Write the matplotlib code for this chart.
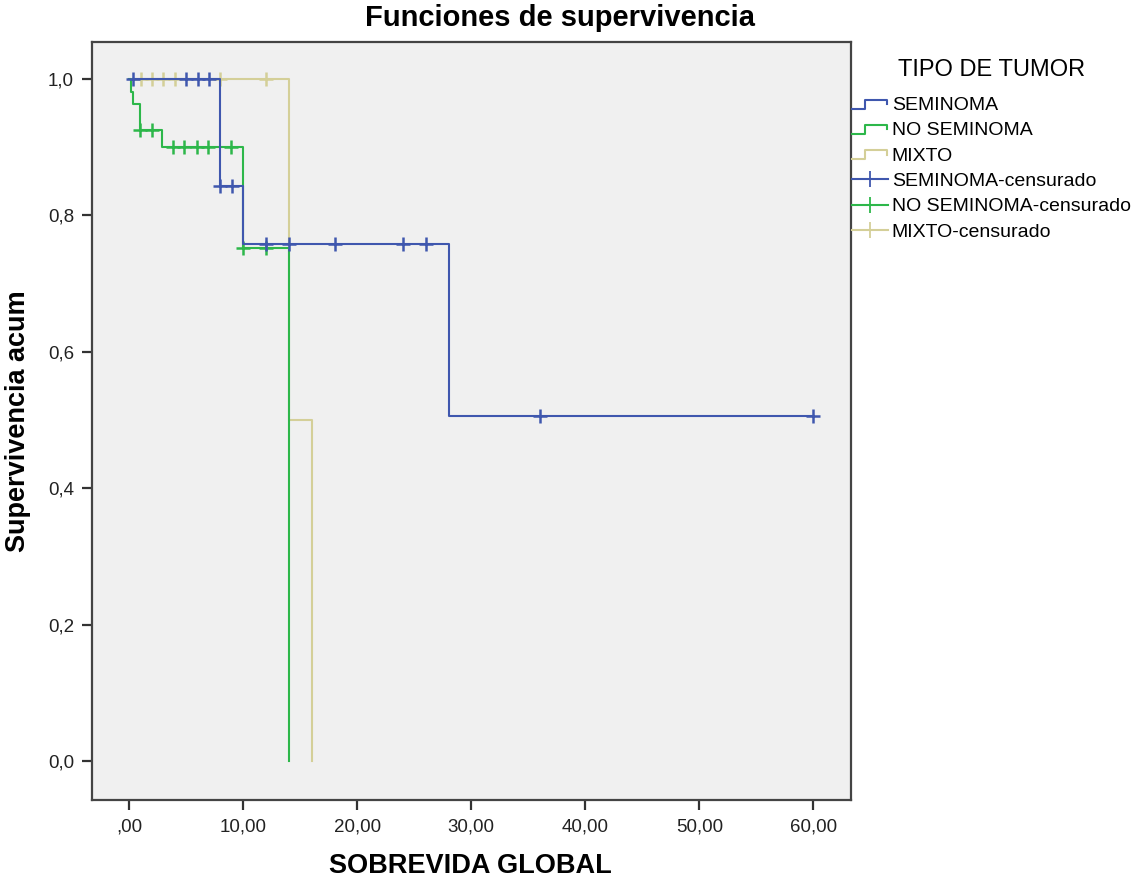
import matplotlib
matplotlib.use("Agg")
from matplotlib import pyplot as plt
from matplotlib.lines import Line2D
from matplotlib.legend_handler import HandlerBase
import numpy as np

plt.rcParams['font.family'] = ['Liberation Sans', 'DejaVu Sans']

# Curvas de supervivencia (tiempos de cambio y supervivencia acumulada)
seminoma_t = [0.3, 8.0, 10.0, 28.0, 60.0]
seminoma_s = [1.0, 0.843, 0.758, 0.506, 0.506]
seminoma_cens = [0.3, 5.0, 6.0, 7.0, 8.0, 9.0, 12.0, 14.0, 18.0, 24.0, 26.0, 36.0, 60.0]

noseminoma_t = [0.0, 0.15, 0.35, 0.9, 2.9, 10.0, 14.0]
noseminoma_s = [1.0, 0.981, 0.963, 0.925, 0.900, 0.752, 0.0]
noseminoma_cens = [0.9, 2.0, 3.8, 4.8, 5.9, 6.9, 8.9, 10.0, 12.0]

mixto_t = [0.3, 14.0, 16.0]
mixto_s = [1.0, 0.5, 0.0]
mixto_cens = [1.0, 2.0, 3.0, 4.0, 8.0, 12.0]

grupos = ['SEMINOMA', 'NO SEMINOMA', 'MIXTO']
colores = ['#3F57AE', '#2DB74A', '#D4CF98']

xticks = [0, 10, 20, 30, 40, 50, 60]
xtick_labels = [',00', '10,00', '20,00', '30,00', '40,00', '50,00', '60,00']
yticks = [0.0, 0.2, 0.4, 0.6, 0.8, 1.0]
ytick_labels = ['0,0', '0,2', '0,4', '0,6', '0,8', '1,0']


class HandlerStep(HandlerBase):
    # dibuja un escalon en la leyenda, como en SPSS
    def create_artists(self, legend, orig_handle, xdescent, ydescent,
                       width, height, fontsize, trans):
        xs = np.array([0, 0.36, 0.36, 0.98, 0.98]) * width - xdescent
        ys = np.array([0.1, 0.1, 0.75, 0.75, 0.45]) * height - ydescent
        ln = Line2D(xs, ys, color=orig_handle.get_color(),
                    lw=orig_handle.get_linewidth())
        ln.set_transform(trans)
        return [ln]


def valor_en(t, tiempos, surv):
    i = np.searchsorted(tiempos, t, side='right') - 1
    return surv[max(i, 0)]


fig = plt.figure(figsize=(11.32, 8.84), dpi=100)
ax = fig.add_axes([92/1132, 1 - 800/884, (851 - 92)/1132, (800 - 42)/884])
ax.set_facecolor('#F0F0F0')

datos = [(seminoma_t, seminoma_s, seminoma_cens),
         (noseminoma_t, noseminoma_s, noseminoma_cens),
         (mixto_t, mixto_s, mixto_cens)]

# primero el mixto, luego los demas encima
orden = [2, 1, 0]
step_handles = [None] * 3
cens_handles = [None] * 3
for k in orden:
    t, s, c = datos[k]
    col = colores[k]
    ax.step(t, s, where='post', color=col, lw=1.5, zorder=2 + (2 - k))
    sc = [valor_en(ci, t, s) for ci in c]
    ax.plot(c, sc, linestyle='none', marker='+', markersize=10,
            markeredgewidth=1.8, color=col, zorder=3 + (2 - k))
    step_handles[k] = Line2D([], [], color=col, lw=1.5)
    cens_handles[k] = Line2D([], [], color=col, lw=1.5, marker='+',
                             markersize=12, markeredgewidth=1.3)

ax.set_xlim(-3.27, 63.3)
ax.set_ylim(-0.057, 1.054)
ax.set_xticks(xticks)
ax.set_xticklabels(xtick_labels)
ax.set_yticks(yticks)
ax.set_yticklabels(ytick_labels)
ax.tick_params(direction='out', length=7, width=1.6, color='#333333',
               labelsize=13.5, labelcolor='#222222', pad=6)
for sp in ax.spines.values():
    sp.set_linewidth(1.6)
    sp.set_color('#444444')

fig.text(560/1132, 1 - 18/884, 'Funciones de supervivencia',
         ha='center', va='center', fontsize=21, fontweight='bold')
fig.text(470/1132, 1 - 866/884, 'SOBREVIDA GLOBAL',
         ha='center', va='center', fontsize=19.5, fontweight='bold')
fig.text(18/1132, 1 - 421/884, 'Supervivencia acum', rotation=90,
         ha='center', va='center', fontsize=19.5, fontweight='bold')

etiquetas = grupos + [g + '-censurado' for g in grupos]
handler = {h: HandlerStep() for h in step_handles}
leg = fig.legend(step_handles + cens_handles, etiquetas, loc='upper left',
                 bbox_to_anchor=(852/1132, 1 - 59/884), frameon=False,
                 title='TIPO DE TUMOR', title_fontsize=17, fontsize=14,
                 handlelength=1.85, handletextpad=0.2, labelspacing=0.40,
                 borderpad=0, borderaxespad=0, handler_map=handler)
leg._legend_box.sep = 11

fig.savefig('out.png', dpi=100, facecolor='white')
